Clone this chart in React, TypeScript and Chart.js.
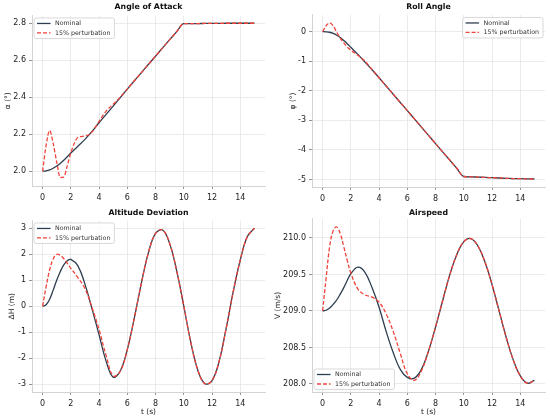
import * as React from 'react';
import {useRef, useEffect} from 'react';
import {Chart, registerables} from 'chart.js';

Chart.register(...registerables);

// sample times (s), shared by every series
const timeS = [0, 0.25, 0.5, 0.75, 1, 1.25, 1.5, 1.75, 2, 2.5, 3, 3.5, 4, 4.5, 5, 5.5, 6, 6.5, 7, 7.5,
  8, 8.5, 9, 9.5, 10, 10.5, 11, 11.5, 12, 12.5, 13, 13.5, 14, 14.5, 15];

const aoaNominal = [2.0, 2.002, 2.007, 2.016, 2.028, 2.042, 2.059, 2.078, 2.098, 2.135, 2.172, 2.215,
  2.262, 2.307, 2.352, 2.398, 2.444, 2.489, 2.533, 2.578, 2.622, 2.667, 2.711, 2.755, 2.798, 2.798,
  2.798, 2.799, 2.799, 2.799, 2.8, 2.8, 2.8, 2.8, 2.8];
const aoaPerturbed = [2.0, 2.14, 2.22, 2.15, 2.05, 1.966, 1.968, 2.03, 2.1, 2.182, 2.19, 2.212,
  2.27, 2.325, 2.362, 2.401, 2.445, 2.489, 2.533, 2.578, 2.622, 2.667, 2.711, 2.755, 2.798, 2.798,
  2.798, 2.799, 2.799, 2.799, 2.8, 2.8, 2.8, 2.8, 2.8];

const rollNominal = [0, -0.005, -0.02, -0.06, -0.12, -0.2, -0.3, -0.41, -0.53, -0.77, -1.03, -1.29,
  -1.56, -1.838, -2.117, -2.395, -2.673, -2.952, -3.23, -3.508, -3.787, -4.065, -4.343, -4.622, -4.9,
  -4.91, -4.92, -4.93, -4.94, -4.95, -4.96, -4.97, -4.975, -4.98, -4.985];
const rollPerturbed = [0, 0.2, 0.3, 0.2, -0.02, -0.22, -0.38, -0.52, -0.63, -0.8, -1.0, -1.28,
  -1.56, -1.838, -2.117, -2.395, -2.673, -2.952, -3.23, -3.508, -3.787, -4.065, -4.343, -4.622, -4.9,
  -4.91, -4.92, -4.93, -4.94, -4.95, -4.96, -4.97, -4.975, -4.98, -4.985];

const altNominal = [0, 0.06, 0.27, 0.62, 1.0, 1.33, 1.59, 1.75, 1.8, 1.55, 0.85, -0.1, -1.1, -2.12,
  -2.73, -2.49, -1.66, -0.44, 0.9, 2.07, 2.8, 2.93, 2.41, 1.35, 0.0, -1.4, -2.47, -2.98, -2.86, -2.12,
  -0.85, 0.56, 1.78, 2.68, 3.0];
const altPerturbed = [0, 0.75, 1.4, 1.82, 2.0, 1.96, 1.83, 1.65, 1.46, 1.1, 0.68, -0.05, -0.9, -1.9,
  -2.68, -2.5, -1.66, -0.44, 0.9, 2.07, 2.8, 2.93, 2.41, 1.35, 0.0, -1.4, -2.47, -2.98, -2.86, -2.12,
  -0.85, 0.56, 1.78, 2.68, 3.0];

const speedNominal = [209.0, 209.01, 209.04, 209.09, 209.15, 209.23, 209.32, 209.42, 209.51, 209.6,
  209.53, 209.32, 209.05, 208.72, 208.43, 208.2, 208.09, 208.08, 208.2, 208.45, 208.78, 209.14,
  209.49, 209.77, 209.95, 209.99, 209.89, 209.67, 209.36, 209.0, 208.64, 208.33, 208.11, 208.01, 208.05];
const speedPerturbed = [209.0, 209.45, 209.88, 210.1, 210.15, 210.06, 209.88, 209.69, 209.52, 209.3,
  209.22, 209.19, 209.12, 208.96, 208.72, 208.42, 208.14, 208.05, 208.18, 208.45, 208.78, 209.14,
  209.49, 209.77, 209.95, 209.99, 209.89, 209.67, 209.36, 209.0, 208.64, 208.33, 208.11, 208.01, 208.05];

const seriesLabels = ['Nominal', '15% perturbation'];

const NOMINAL_COLOR = '#2c3e50';
const PERTURBED_COLOR = '#f0433a';
const FONT = "'DejaVu Sans', sans-serif";

// legend box drawn inside the plot area, matplotlib style
const cornerLegend = {
  id: 'cornerLegend',
  afterDatasetsDraw(chart: any, _args: any, opts: any) {
    const {ctx, chartArea} = chart;
    const items = chart.data.datasets;
    ctx.save();
    ctx.font = `6.3px ${FONT}`;
    const textW = Math.max(...items.map((d: any) => ctx.measureText(d.label).width));
    const w = 21 + textW + 4;
    const h = 20.5;
    let x = chartArea.left + 2;
    let y = chartArea.top + 2.5;
    if (opts.corner === 'tr') x = chartArea.right - 2 - w;
    if (opts.corner === 'bl') y = chartArea.bottom - 2.5 - h;
    ctx.fillStyle = 'rgba(255,255,255,0.85)';
    ctx.strokeStyle = '#cfcfcf';
    ctx.lineWidth = 0.8;
    ctx.beginPath();
    ctx.roundRect(x, y, w, h, 2);
    ctx.fill();
    ctx.stroke();
    items.forEach((d: any, i: number) => {
      const ry = y + 5.5 + i * 9.5;
      ctx.strokeStyle = d.borderColor;
      ctx.lineWidth = d.borderWidth;
      ctx.setLineDash(d.borderDash || []);
      ctx.beginPath();
      ctx.moveTo(x + 3, ry);
      ctx.lineTo(x + 16.5, ry);
      ctx.stroke();
      ctx.setLineDash([]);
      ctx.fillStyle = '#333';
      ctx.textBaseline = 'middle';
      ctx.textAlign = 'left';
      ctx.fillText(d.label, x + 21, ry);
    });
    ctx.restore();
  },
};

interface PanelProps {
  left: number, top: number, width: number, height: number,
  title: string, yLabel: string, showXTitle: boolean,
  nominal: Array<number>, perturbed: Array<number>,
  yMin: number, yMax: number, yStep: number, decimals: number,
  corner: string, smooth: boolean,
  yWidth: number, padRight: number, titleTop: number, titleBottom: number,
  xHeight: number, yTitlePad: number,
}

function Panel(p: PanelProps): JSX.Element {
  const canvasRef = useRef(null);

  useEffect(() => {
    if (!canvasRef.current) return;
    const curve = p.smooth ? {tension: 0.4} : {cubicInterpolationMode: 'monotone'};
    const tickFont = {family: FONT, size: 8};
    const titleFont = {family: FONT, size: 7.5, lineHeight: 1.2};
    const grid = {color: '#e6e6e6', lineWidth: 0.8, tickLength: 3, tickColor: '#777'};
    const border = {color: '#c8c8c8', width: 0.8};
    const config: any = {
      type: 'line',
      data: {
        datasets: [
          {
            label: seriesLabels[0],
            data: timeS.map((t, i) => ({x: t, y: p.nominal[i]})),
            borderColor: NOMINAL_COLOR, borderWidth: 1.3, pointRadius: 0, order: 2, ...curve,
          },
          {
            label: seriesLabels[1],
            data: timeS.map((t, i) => ({x: t, y: p.perturbed[i]})),
            borderColor: PERTURBED_COLOR, borderWidth: 1.3, borderDash: [4, 2], pointRadius: 0,
            order: 1, ...curve,
          },
        ],
      },
      options: {
        responsive: false,
        animation: false,
        layout: {padding: {left: 0, right: p.padRight, top: 0, bottom: 0}},
        plugins: {
          legend: {display: false},
          tooltip: {enabled: false},
          title: {
            display: true, text: p.title, fullSize: false, color: '#111',
            font: {family: FONT, size: 7.8, weight: 'bold', lineHeight: 1.2},
            padding: {top: p.titleTop, bottom: p.titleBottom},
          },
          cornerLegend: {corner: p.corner},
        },
        scales: {
          x: {
            type: 'linear', min: -0.75, max: 15.75,
            ticks: {
              stepSize: 2, includeBounds: false, autoSkip: false, maxRotation: 0,
              font: tickFont, color: '#222', padding: 4,
              callback: (v: number) => String(v),
            },
            grid, border,
            title: {
              display: p.showXTitle, text: 't (s)', color: '#222', font: titleFont,
              padding: {top: 0, bottom: 3},
            },
            afterFit: (s: any) => { s.height = p.xHeight; },
          },
          y: {
            type: 'linear', min: p.yMin, max: p.yMax,
            ticks: {
              stepSize: p.yStep, includeBounds: false, autoSkip: false,
              font: tickFont, color: '#222', padding: 3,
              callback: (v: number) => v.toFixed(p.decimals),
            },
            grid, border,
            title: {
              display: true, text: p.yLabel, color: '#222', font: titleFont,
              padding: {top: p.yTitlePad, bottom: 0},
            },
            afterFit: (s: any) => { s.width = p.yWidth; },
          },
        },
      },
      plugins: [cornerLegend],
    };
    const chart = new Chart(canvasRef.current, config);
    return () => {
      chart.destroy();
    };
  }, []);

  return (
    <canvas
      ref={canvasRef}
      width={p.width}
      height={p.height}
      style={{position: 'absolute', left: p.left, top: p.top}}
    />
  );
}

export default function App(): JSX.Element {
  return (
    <div style={{position: 'fixed', left: 0, top: 0, width: 550, height: 420, background: '#fff'}}>
      <Panel left={0} top={0} width={275} height={205}
        title="Angle of Attack" yLabel="α (°)" showXTitle={false}
        nominal={aoaNominal} perturbed={aoaPerturbed}
        yMin={1.92} yMax={2.842} yStep={0.2} decimals={1} corner="tl" smooth={false}
        yWidth={32} padRight={10} titleTop={2.6} titleBottom={3.5} xHeight={19} yTitlePad={3.8} />
      <Panel left={270} top={0} width={280} height={205}
        title="Roll Angle" yLabel="φ (°)" showXTitle={false}
        nominal={rollNominal} perturbed={rollPerturbed}
        yMin={-5.255} yMax={0.565} yStep={1} decimals={0} corner="tr" smooth={false}
        yWidth={42} padRight={5} titleTop={2.6} titleBottom={3.0} xHeight={18} yTitlePad={18.8} />
      <Panel left={0} top={205} width={275} height={215}
        title="Altitude Deviation" yLabel="ΔH (m)" showXTitle={true}
        nominal={altNominal} perturbed={altPerturbed}
        yMin={-3.3} yMax={3.3} yStep={1} decimals={0} corner="tl" smooth={true}
        yWidth={32} padRight={10} titleTop={3.6} titleBottom={2.5} xHeight={28} yTitlePad={7.2} />
      <Panel left={270} top={205} width={280} height={215}
        title="Airspeed" yLabel="V (m/s)" showXTitle={true}
        nominal={speedNominal} perturbed={speedPerturbed}
        yMin={207.89} yMax={210.26} yStep={0.5} decimals={1} corner="bl" smooth={true}
        yWidth={42} padRight={5} titleTop={3.6} titleBottom={1.0} xHeight={28} yTitlePad={3.2} />
    </div>
  );
}
